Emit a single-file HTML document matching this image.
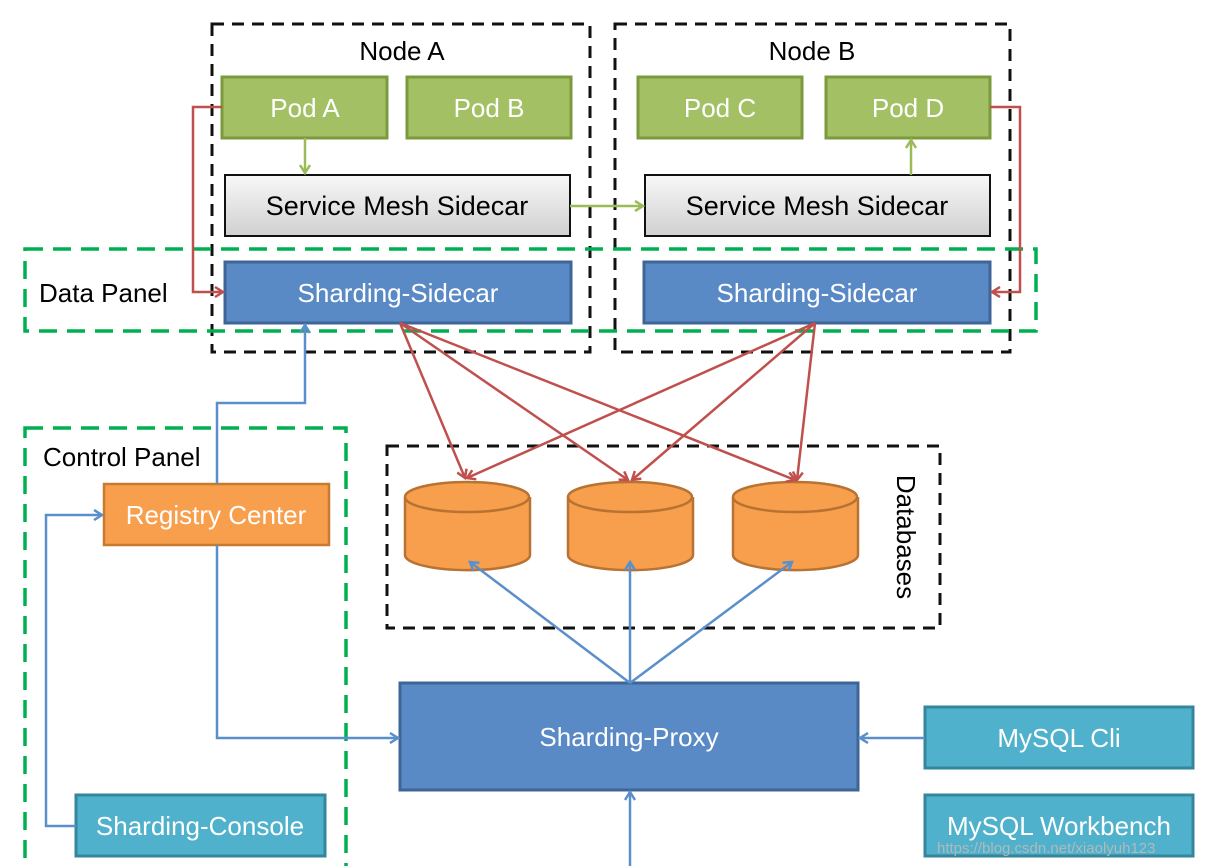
<!DOCTYPE html>
<html><head><meta charset="utf-8"><style>
html,body{margin:0;padding:0;background:#fff;}
svg{display:block;font-family:"Liberation Sans","DejaVu Sans",sans-serif;}
</style></head><body>
<svg width="1218" height="866" viewBox="0 0 1218 866" xmlns="http://www.w3.org/2000/svg">
<defs>
<marker id="ar" markerWidth="12" markerHeight="12" refX="9" refY="6" orient="auto" markerUnits="userSpaceOnUse"><path d="M1,1 L9,6 L1,11" fill="none" stroke="#c0504d" stroke-width="2.5"/></marker>
<marker id="ab" markerWidth="12" markerHeight="12" refX="9" refY="6" orient="auto" markerUnits="userSpaceOnUse"><path d="M1,1 L9,6 L1,11" fill="none" stroke="#5b8fcb" stroke-width="2.5"/></marker>
<marker id="ag" markerWidth="12" markerHeight="12" refX="9" refY="6" orient="auto" markerUnits="userSpaceOnUse"><path d="M1,1 L9,6 L1,11" fill="none" stroke="#9bbb59" stroke-width="2.5"/></marker>
<linearGradient id="gr" x1="0" y1="0" x2="0" y2="1"><stop offset="0" stop-color="#f8f8f8"/><stop offset="1" stop-color="#d0d0d0"/></linearGradient>
</defs>
<g fill="none" stroke="#111" stroke-width="3" stroke-dasharray="12,8">
<rect x="212" y="24" width="378" height="328"/>
<rect x="615" y="24" width="395" height="328"/>
<rect x="387" y="446" width="553" height="182"/>
</g>
<g fill="none" stroke="#00b050" stroke-width="3.5" stroke-dasharray="18,10">
<rect x="25" y="249" width="1011" height="82"/>
<rect x="25" y="428" width="321" height="440"/>
</g>
<g font-size="26" fill="#000">
<text x="402" y="60" text-anchor="middle">Node A</text>
<text x="812" y="60" text-anchor="middle">Node B</text>
<text x="39" y="302">Data Panel</text>
<text x="43" y="466">Control Panel</text>
<text x="0" y="0" transform="translate(897,537) rotate(90)" text-anchor="middle">Databases</text>
</g>
<g fill="#a3c164" stroke="#7a9a3d" stroke-width="3">
<rect x="222" y="77" width="165" height="61"/>
<rect x="407" y="77" width="164" height="61"/>
<rect x="638" y="77" width="164" height="61"/>
<rect x="826" y="77" width="164" height="61"/>
</g>
<g font-size="26" fill="#fff" text-anchor="middle">
<text x="305" y="117">Pod A</text><text x="489" y="117">Pod B</text>
<text x="720" y="117">Pod C</text><text x="908" y="117">Pod D</text>
</g>
<g fill="url(#gr)" stroke="#111" stroke-width="2">
<rect x="225" y="175" width="345" height="61"/>
<rect x="645" y="175" width="345" height="61"/>
</g>
<g font-size="27" fill="#000" text-anchor="middle">
<text x="397" y="215">Service Mesh Sidecar</text><text x="817" y="215">Service Mesh Sidecar</text>
</g>
<g fill="#5a8ac6" stroke="#3d6598" stroke-width="3">
<rect x="225" y="262" width="346" height="61"/>
<rect x="644" y="262" width="346" height="61"/>
<rect x="400" y="683" width="458" height="107"/>
</g>
<g font-size="26" fill="#fff" text-anchor="middle">
<text x="398" y="302">Sharding-Sidecar</text><text x="817" y="302">Sharding-Sidecar</text>
<text x="629" y="746">Sharding-Proxy</text>
</g>
<rect x="104" y="484" width="225" height="61" fill="#f79f4c" stroke="#c77a30" stroke-width="2.5"/>
<text x="216" y="524" font-size="26" fill="#fff" text-anchor="middle">Registry Center</text>
<g fill="#4fb1cb" stroke="#33869c" stroke-width="3">
<rect x="76" y="795" width="249" height="61"/>
<rect x="925" y="707" width="268" height="61"/>
<rect x="925" y="795" width="268" height="61"/>
</g>
<g font-size="26" fill="#fff" text-anchor="middle">
<text x="200" y="835">Sharding-Console</text>
<text x="1059" y="747">MySQL Cli</text>
<text x="1059" y="835">MySQL Workbench</text>
</g>
<g fill="#f79f4c" stroke="#b87333" stroke-width="2.5">
<path d="M405,497 L405,555 A62,15 0 0 0 530,555 L530,497"/><ellipse cx="467" cy="497" rx="62" ry="15"/>
<path d="M568,497 L568,555 A62,15 0 0 0 693,555 L693,497"/><ellipse cx="630" cy="497" rx="62" ry="15"/>
<path d="M733,497 L733,555 A62,15 0 0 0 858,555 L858,497"/><ellipse cx="795" cy="497" rx="62" ry="15"/>
</g>
<g fill="none" stroke="#c0504d" stroke-width="2.5" marker-end="url(#ar)">
<path d="M222,107 L193,107 L193,292 L223,292"/>
<path d="M990,107 L1020,107 L1020,292 L992,292"/>
<path d="M400,323 L465,478"/><path d="M400,323 L628,480"/><path d="M400,323 L795,480"/>
<path d="M815,323 L467,478"/><path d="M815,323 L632,480"/><path d="M815,323 L797,480"/>
</g>
<g fill="none" stroke="#9bbb59" stroke-width="2.5" marker-end="url(#ag)">
<path d="M305,138 L305,173"/><path d="M570,206 L643,206"/><path d="M911,175 L911,140"/>
</g>
<g fill="none" stroke="#5b8fcb" stroke-width="2.5" marker-end="url(#ab)">
<path d="M217,484 L217,403 L305,403 L305,325"/>
<path d="M217,545 L217,738 L398,738"/>
<path d="M76,826 L46,826 L46,515 L102,515"/>
<path d="M630,683 L470,562"/><path d="M630,683 L630,562"/><path d="M630,683 L792,562"/>
<path d="M925,738 L860,738"/>
<path d="M630,866 L630,792"/>
</g>
<text x="937" y="853" font-size="15" fill="#bbb" opacity="0.9">https://blog.csdn.net/xiaolyuh123</text>
</svg>
</body></html>
